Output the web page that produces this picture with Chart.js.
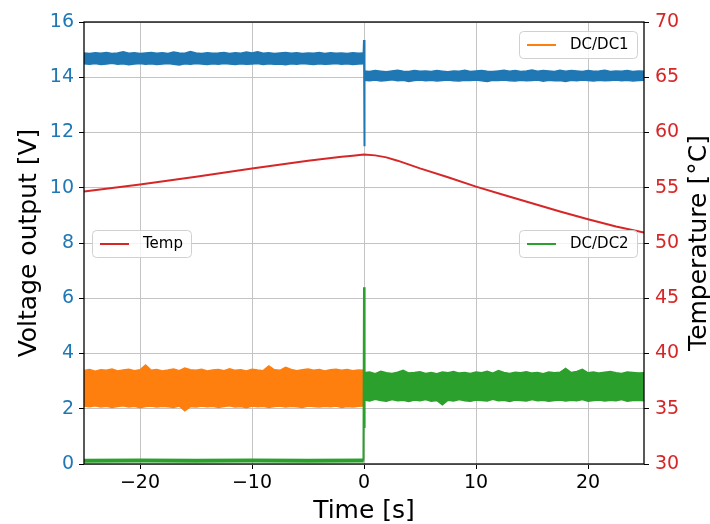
<!DOCTYPE html>
<html>
<head>
<meta charset="utf-8">
<script src="https://cdn.jsdelivr.net/npm/chart.js@4/dist/chart.umd.min.js"></script>
<style>
  html, body { margin: 0; padding: 0; background: #fff; }
  #wrap { width: 710px; height: 524px; position: relative; }
</style>
</head>
<body>
<div id="wrap"><canvas id="chart"></canvas></div>
<script>
// sample times
const timePre = [-25,-24.5,-24,-23.5,-23,-22.5,-22,-21.5,-21,-20.5,
  -20,-19.5,-19,-18.5,-18,-17.5,-17,-16.5,-16,-15.5,
  -15,-14.5,-14,-13.5,-13,-12.5,-12,-11.5,-11,-10.5,
  -10,-9.5,-9,-8.5,-8,-7.5,-7,-6.5,-6,-5.5,
  -5,-4.5,-4,-3.5,-3,-2.5,-2,-1.5,-1,-0.5,
  0];
const timePost = [0,0.5,1,1.5,2,2.5,3,3.5,4,4.5,
  5,5.5,6,6.5,7,7.5,8,8.5,9,9.5,
  10,10.5,11,11.5,12,12.5,13,13.5,14,14.5,
  15,15.5,16,16.5,17,17.5,18,18.5,19,19.5,
  20,20.5,21,21.5,22,22.5,23,23.5,24,24.5,
  25];

// main output (blue) noise envelope
const outHiPre = [14.88,14.86,14.89,14.87,14.90,14.86,14.88,14.92,14.87,14.89,
  14.86,14.88,14.90,14.87,14.89,14.86,14.91,14.88,14.87,14.93,
  14.88,14.86,14.89,14.87,14.88,14.90,14.86,14.89,14.87,14.91,
  14.88,14.92,14.87,14.89,14.86,14.88,14.90,14.87,14.89,14.86,
  14.88,14.87,14.90,14.86,14.89,14.87,14.88,14.86,14.89,14.87,
  14.88];
const outLoPre = [14.49,14.47,14.50,14.46,14.48,14.51,14.47,14.49,14.45,14.48,
  14.50,14.47,14.49,14.46,14.48,14.50,14.47,14.44,14.49,14.47,
  14.50,14.48,14.46,14.49,14.47,14.50,14.48,14.46,14.49,14.47,
  14.48,14.50,14.46,14.49,14.47,14.48,14.45,14.49,14.47,14.50,
  14.48,14.46,14.49,14.47,14.48,14.50,14.47,14.49,14.46,14.48,
  14.49];
const outHiPost = [14.23,14.21,14.24,14.22,14.20,14.23,14.25,14.22,14.21,14.24,
  14.22,14.23,14.21,14.24,14.22,14.20,14.23,14.22,14.25,14.21,
  14.23,14.24,14.22,14.21,14.23,14.25,14.22,14.24,14.21,14.23,
  14.26,14.22,14.24,14.23,14.21,14.25,14.22,14.24,14.23,14.21,
  14.24,14.22,14.23,14.25,14.21,14.23,14.22,14.24,14.21,14.23,
  14.22];
const outLoPost = [13.89,13.87,13.90,13.86,13.88,13.91,13.87,13.89,13.85,13.88,
  13.90,13.87,13.89,13.86,13.88,13.90,13.87,13.86,13.89,13.88,
  13.90,13.87,13.85,13.89,13.88,13.90,13.87,13.86,13.89,13.87,
  13.88,13.90,13.86,13.89,13.87,13.88,13.85,13.89,13.87,13.90,
  13.88,13.86,13.89,13.87,13.88,13.90,13.87,13.89,13.86,13.88,
  13.89];
const outSpikeT = [-0.05, 0, 0.03, 0.06];
const outSpikeV = [14.7, 15.35, 11.5, 14.05];

// DC/DC1 (orange) envelope, before 0
const dc1Hi = [3.38,3.42,3.36,3.41,3.39,3.44,3.37,3.40,3.43,3.38,
  3.41,3.58,3.39,3.42,3.37,3.40,3.44,3.38,3.47,3.41,
  3.39,3.43,3.37,3.40,3.42,3.38,3.45,3.39,3.41,3.37,
  3.43,3.40,3.38,3.55,3.41,3.39,3.50,3.42,3.38,3.41,
  3.44,3.39,3.42,3.37,3.41,3.43,3.39,3.42,3.38,3.40,
  3.39];
const dc1Lo = [2.10,2.07,2.11,2.06,2.09,2.05,2.08,2.11,2.06,2.09,
  2.04,2.08,2.10,2.06,2.09,2.07,2.05,2.10,1.93,2.08,
  2.06,2.10,2.07,2.09,2.05,2.08,2.11,2.06,2.08,2.04,
  2.10,2.07,2.09,2.05,2.08,2.10,2.06,2.09,2.07,2.05,
  2.10,2.08,2.06,2.09,2.07,2.10,2.05,2.08,2.06,2.09,
  2.10];

// DC/DC2 (green)
const dc2PreT = [-25, -20, -15, -10, -5, -0.02];
const dc2PreV = [0.12, 0.13, 0.12, 0.13, 0.12, 0.13];
const dc2SpikeT = [-0.05, 0, 0.03, 0.05, 0.08];
const dc2SpikeV = [0.13, 6.4, 1.3, 4.1, 2.8];
const dc2Hi = [3.30,3.33,3.27,3.36,3.30,3.28,3.32,3.39,3.29,3.31,
  3.34,3.28,3.31,3.27,3.33,3.30,3.35,3.29,3.31,3.28,
  3.33,3.30,3.36,3.29,3.38,3.31,3.28,3.32,3.30,3.34,
  3.29,3.31,3.27,3.33,3.30,3.32,3.46,3.31,3.35,3.43,
  3.30,3.33,3.29,3.32,3.35,3.30,3.28,3.33,3.31,3.29,
  3.30];
const dc2Lo = [2.32,2.28,2.34,2.30,2.27,2.33,2.29,2.31,2.26,2.32,
  2.29,2.33,2.27,2.30,2.14,2.31,2.28,2.33,2.29,2.27,
  2.32,2.30,2.28,2.34,2.29,2.31,2.26,2.32,2.30,2.28,
  2.33,2.29,2.31,2.27,2.30,2.32,2.28,2.31,2.29,2.33,
  2.27,2.30,2.32,2.28,2.31,2.29,2.33,2.27,2.30,2.31,
  2.29];

// temperature (right axis)
const tempT = [-25,-20,-15,-10,-5,-2,-1,0,1,2,3,5,7.5,10,12.5,15,17.5,20,22.5,25];
const tempV = [54.65,55.3,56.0,56.75,57.45,57.8,57.9,58.0,57.93,57.75,57.45,56.75,55.95,55.1,54.35,53.6,52.85,52.15,51.5,50.95];

const xTicks = [-20, -10, 0, 10, 20];
const seriesNames = ['DC/DC1', 'Temp', 'DC/DC2'];

const BLUE = '#1f77b4', ORANGE = '#ff7f0e', GREEN = '#2ca02c', RED = '#d62728';

function pts(xs, ys) { return xs.map((x, i) => ({ x: x, y: ys[i] })); }
function fmt(v) { return String(v).replace('-', '\u2212'); }

function line(data, color, order, extra) {
  return Object.assign({
    data: data, borderColor: color, backgroundColor: color, borderWidth: 2,
    pointRadius: 0, tension: 0, fill: false, order: order, yAxisID: 'y'
  }, extra || {});
}

const datasets = [
  line(pts(tempT, tempV), RED, 0, { yAxisID: 'y1', borderWidth: 2 }),
  line(pts(dc2PreT, dc2PreV), GREEN, 1, { borderWidth: 4 }),
  line(pts(dc2SpikeT, dc2SpikeV), GREEN, 1),
  line(pts(timePost, dc2Lo), GREEN, 2, { borderWidth: 1.5 }),
  line(pts(timePost, dc2Hi), GREEN, 2, { borderWidth: 1.5, fill: '-1' }),
  line(pts(timePre, dc1Lo), ORANGE, 3, { borderWidth: 1.5 }),
  line(pts(timePre, dc1Hi), ORANGE, 3, { borderWidth: 1.5, fill: '-1' }),
  line(pts(outSpikeT, outSpikeV), BLUE, 4),
  line(pts(timePre, outLoPre), BLUE, 5, { borderWidth: 1.5 }),
  line(pts(timePre, outHiPre), BLUE, 5, { borderWidth: 1.5, fill: '-1' }),
  line(pts(timePost, outLoPost), BLUE, 5, { borderWidth: 1.5 }),
  line(pts(timePost, outHiPost), BLUE, 5, { borderWidth: 1.5, fill: '-1' })
];

function roundRect(ctx, x, y, w, h, r) {
  ctx.beginPath();
  ctx.moveTo(x + r, y);
  ctx.arcTo(x + w, y, x + w, y + h, r);
  ctx.arcTo(x + w, y + h, x, y + h, r);
  ctx.arcTo(x, y + h, x, y, r);
  ctx.arcTo(x, y, x + w, y, r);
  ctx.closePath();
}

function drawLegend(ctx, x, y, w, color, label) {
  ctx.save();
  roundRect(ctx, x + 0.5, y + 0.5, w, 27, 4);
  ctx.fillStyle = 'rgba(255,255,255,0.8)';
  ctx.fill();
  ctx.strokeStyle = '#d0d0d0';
  ctx.lineWidth = 1;
  ctx.stroke();
  ctx.beginPath();
  ctx.moveTo(x + 8, y + 14);
  ctx.lineTo(x + 37, y + 14);
  ctx.strokeStyle = color;
  ctx.lineWidth = 2;
  ctx.stroke();
  ctx.fillStyle = '#000';
  ctx.font = '15px "DejaVu Sans"';
  ctx.textBaseline = 'middle';
  ctx.fillText(label, x + 51, y + 14.5);
  ctx.restore();
}

const decor = {
  id: 'decor',
  afterDatasetsDraw(chart) {
    const ctx = chart.ctx, a = chart.chartArea;
    ctx.save();
    ctx.strokeStyle = '#000';
    ctx.lineWidth = 1.3;
    ctx.strokeRect(a.left, a.top, a.right - a.left, a.bottom - a.top);
    ctx.restore();
  },
  afterDraw(chart) {
    const ctx = chart.ctx, a = chart.chartArea;
    const midY = (a.top + a.bottom) / 2;
    drawLegend(ctx, a.right - 125, a.top + 9, 118, ORANGE, seriesNames[0]);
    drawLegend(ctx, a.left + 8, midY - 13, 99, RED, seriesNames[1]);
    drawLegend(ctx, a.right - 125, midY - 13, 118, GREEN, seriesNames[2]);

    ctx.save();
    ctx.fillStyle = '#000';
    ctx.font = '25px "DejaVu Sans"';
    ctx.textAlign = 'center';
    ctx.textBaseline = 'alphabetic';
    ctx.fillText('Time [s]', (a.left + a.right) / 2, 518);
    ctx.save();
    ctx.translate(36, midY);
    ctx.rotate(-Math.PI / 2);
    ctx.fillText('Voltage output [V]', 0, 0);
    ctx.restore();
    ctx.save();
    ctx.translate(706, midY);
    ctx.rotate(-Math.PI / 2);
    ctx.fillText('Temperature [\u00b0C]', 0, 0);
    ctx.restore();
    ctx.restore();
  }
};

Chart.defaults.font.family = '"DejaVu Sans"';

new Chart(document.getElementById('chart'), {
  type: 'line',
  data: { datasets: datasets },
  options: {
    responsive: true,
    maintainAspectRatio: false,
    animation: false,
    events: [],
    layout: { padding: { top: 22, left: 0, right: 0, bottom: 0 } },
    plugins: { legend: { display: false }, tooltip: { enabled: false } },
    scales: {
      x: {
        type: 'linear', min: -25, max: 25,
        afterBuildTicks: s => { s.ticks = xTicks.map(v => ({ value: v })); },
        afterFit: s => { s.height = 60; },
        grid: { color: '#c4c4c4', lineWidth: 1, tickColor: '#000', tickLength: 5 },
        border: { display: false },
        ticks: { color: '#000', font: { size: 19 }, padding: 3, maxRotation: 0, callback: v => fmt(v) }
      },
      y: {
        position: 'left', min: 0, max: 16,
        afterFit: s => { s.width = 84; },
        grid: { color: '#c4c4c4', lineWidth: 1, tickColor: '#000', tickLength: 5 },
        border: { display: false },
        ticks: { stepSize: 2, color: BLUE, font: { size: 19 }, padding: 5 }
      },
      y1: {
        position: 'right', min: 30, max: 70,
        afterFit: s => { s.width = 66; },
        grid: { drawOnChartArea: false, tickColor: '#000', tickLength: 5 },
        border: { display: false },
        ticks: { stepSize: 5, color: RED, font: { size: 19 }, padding: 6 }
      }
    }
  },
  plugins: [decor]
});
</script>
</body>
</html>
